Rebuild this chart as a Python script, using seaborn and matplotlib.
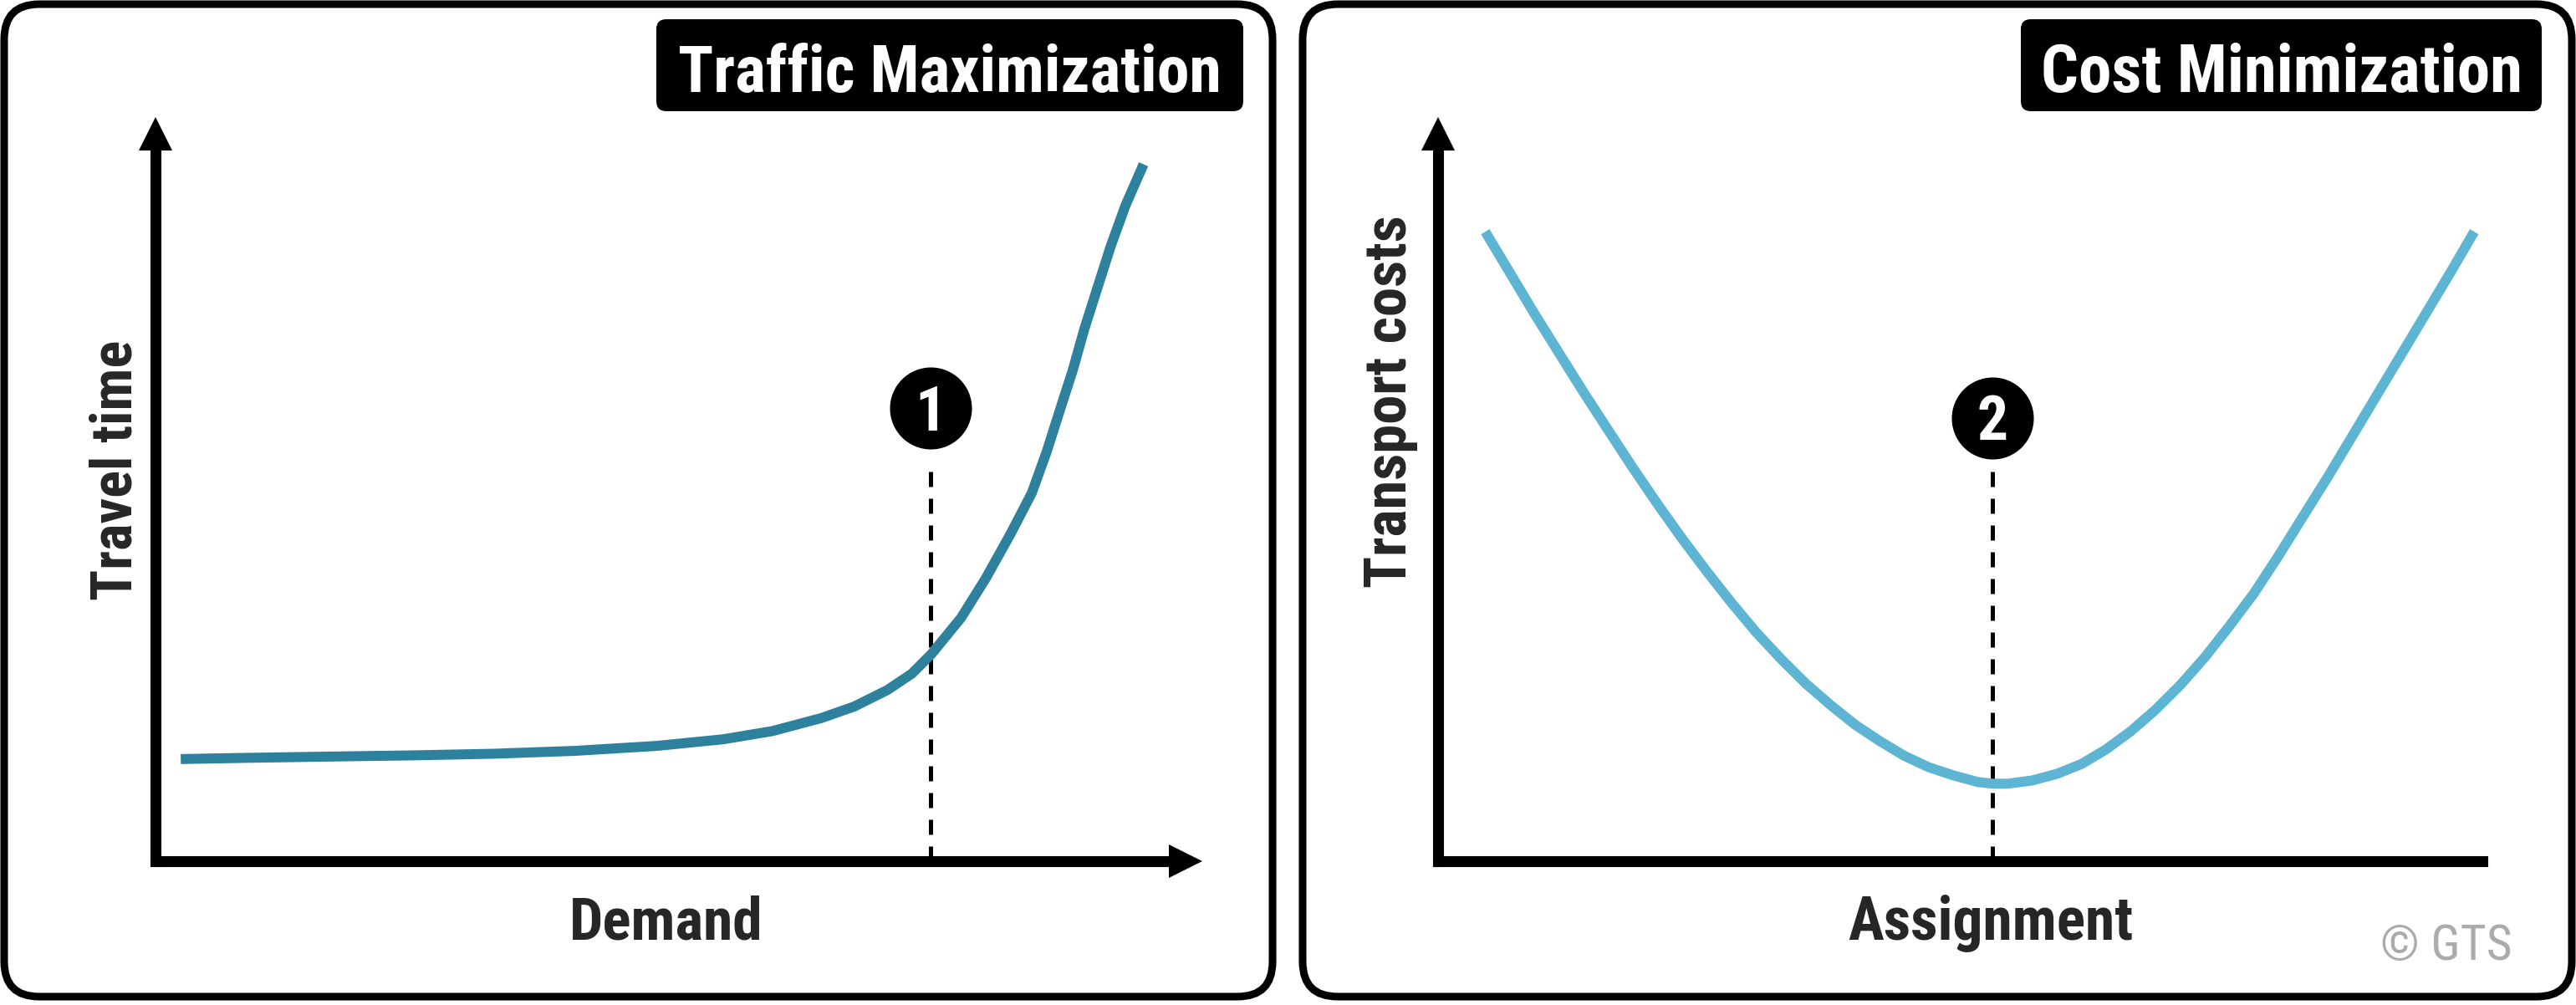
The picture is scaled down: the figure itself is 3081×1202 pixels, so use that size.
import os
import matplotlib
matplotlib.use("Agg")
import matplotlib.pyplot as plt
import seaborn as sns
import numpy as np
import pandas as pd
from matplotlib.patches import FancyBboxPatch
from matplotlib import font_manager as fm
from matplotlib.font_manager import FontProperties

# ---------------- data ----------------
demand = [2.41, 8.68, 16.52, 24.36, 32.20, 40.05, 47.89, 54.16, 58.87, 63.57,
          66.71, 69.85, 72.20, 74.08, 76.90, 79.25, 81.61, 83.65, 85.06, 86.31,
          87.57, 88.67, 89.92, 91.17, 92.59, 94.31]
travel_time = [13.71, 13.87, 14.04, 14.20, 14.42, 14.81, 15.48, 16.36, 17.46, 19.22,
               20.77, 22.97, 25.18, 27.83, 32.68, 37.97, 43.92, 49.44, 54.95, 60.47,
               65.98, 71.49, 77.01, 82.52, 88.03, 93.55]

assignment = [4.49, 6.84, 9.18, 11.53, 13.88, 16.22, 18.57, 20.92, 23.26, 25.61,
              27.96, 30.31, 32.65, 35.00, 37.35, 39.69, 42.04, 44.39, 46.73, 49.08,
              51.43, 52.83, 54.24, 56.59, 58.94, 61.28, 63.63, 65.98, 68.32, 70.67,
              73.02, 75.36, 77.71, 80.06, 82.40, 84.75, 87.10, 89.44, 91.79, 94.14,
              96.48, 98.67]
transport_costs = [84.50, 78.99, 73.48, 68.18, 62.89, 57.82, 52.75, 47.89, 43.26, 38.85,
                   34.66, 30.69, 27.16, 23.86, 20.99, 18.34, 16.14, 14.15, 12.61, 11.51,
                   10.62, 10.40, 10.40, 10.84, 11.73, 13.05, 15.03, 17.46, 20.33, 23.63,
                   27.38, 31.57, 35.99, 41.06, 46.35, 51.64, 57.16, 62.67, 68.18, 73.70,
                   79.21, 84.50]

point1_x, point1_y, point1_label = 74.0, 60.8, "1"
point2_x, point2_y, point2_label = 52.8, 59.5, "2"

titles = ["Traffic Maximization", "Cost Minimization"]
xlabels = ["Demand", "Assignment"]
ylabels = ["Travel time", "Transport costs"]
credit = "\u00a9 GTS"

# ---------------- fonts ----------------
sns.set_theme(style="white")
plt.rcParams["font.family"] = ["Liberation Sans", "DejaVu Sans"]

files = {os.path.basename(f.fname).lower(): f.fname for f in fm.fontManager.ttflist}


def pick(names):
    for n in names:
        if n.lower() in files:
            return files[n.lower()]
    return None


bold_file = pick(["LiberationSansNarrow-Bold.ttf", "ArialNarrowBold.ttf",
                  "RobotoCondensed-Bold.ttf", "EncodeSansCondensed-Bold.ttf",
                  "IBMPlexSansCondensed-Bold.ttf", "BarlowSemiCondensed-Bold.ttf",
                  "DejaVuSansCondensed-Bold.ttf"])
reg_file = pick(["LiberationSansNarrow-Regular.ttf", "ArialNarrow.ttf",
                 "RobotoCondensed-Regular.ttf", "EncodeSansCondensed-Regular.ttf",
                 "IBMPlexSansCondensed-Regular.ttf", "BarlowSemiCondensed-Regular.ttf",
                 "DejaVuSansCondensed.ttf"])
FP_BOLD = FontProperties(fname=bold_file) if bold_file else FontProperties(family="Liberation Sans", weight="bold")
FP_REG = FontProperties(fname=reg_file) if reg_file else FontProperties(family="Liberation Sans")

LEFT_COLOR = "#2E819C"
RIGHT_COLOR = "#5DB5D3"

W, H = 3081, 1202
fig = plt.figure(figsize=(W / 100, H / 100), dpi=100)
fig.patch.set_facecolor("white")

ov = fig.add_axes([0, 0, 1, 1], zorder=0)
ov.set_xlim(0, W)
ov.set_ylim(H, 0)
ov.axis("off")

for (x0, x1) in [(5, 1522), (1558, 3076)]:
    ov.add_patch(FancyBboxPatch((x0, 5), x1 - x0, 1187,
                                boxstyle="round,pad=0,rounding_size=42",
                                fc="white", ec="black", lw=6.5))

texts = []
title_boxes = [(785, 1487, 1136, 651), (2417, 3040, 2729, 577)]
for (x0, x1, xc, tw), t in zip(title_boxes, titles):
    ov.add_patch(FancyBboxPatch((x0, 23), x1 - x0, 110,
                                boxstyle="round,pad=0,rounding_size=12",
                                fc="black", ec="black", lw=0))
    tt = ov.text(xc, 110, t, color="white", fontproperties=FP_BOLD.copy(),
                 ha="center", va="baseline")
    texts.append((tt, tw, "w"))

texts.append((ov.text(797, 1124, xlabels[0], fontproperties=FP_BOLD.copy(),
                      ha="center", va="baseline"), 232, "w"))
texts.append((ov.text(2381, 1124, xlabels[1], fontproperties=FP_BOLD.copy(),
                      ha="center", va="baseline"), 342, "w"))
texts.append((ov.text(157, 562, ylabels[0], fontproperties=FP_BOLD.copy(), rotation=90,
                      rotation_mode="anchor", ha="center", va="baseline"), 311, "h"))
texts.append((ov.text(1682, 480, ylabels[1], fontproperties=FP_BOLD.copy(), rotation=90,
                      rotation_mode="anchor", ha="center", va="baseline"), 446, "h"))
texts.append((ov.text(3005, 1148, credit, fontproperties=FP_REG.copy(), color="#ABABAB",
                      ha="right", va="baseline"), 158, "w"))

renderer = fig.canvas.get_renderer()
for t, target, ax_ in texts:
    t.set_fontsize(50)
    bb = t.get_window_extent(renderer)
    cur = bb.width if ax_ == "w" else bb.height
    t.set_fontsize(50 * target / cur)


def make_axes(x0, x1, y0, y1):
    return fig.add_axes([x0 / W, 1 - y1 / H, (x1 - x0) / W, (y1 - y0) / H], zorder=1)


axL = make_axes(186, 1439, 139, 1030)
axR = make_axes(1720, 2976, 139, 1030)

for ax in (axL, axR):
    ax.set_xlim(0, 100)
    ax.set_ylim(0, 100)
    ax.patch.set_alpha(0)
    ax.set_xticks([])
    ax.set_yticks([])
    ax.grid(False)
    for s in ("top", "right"):
        ax.spines[s].set_visible(False)
    for s in ("left", "bottom"):
        ax.spines[s].set_color("black")
        ax.spines[s].set_linewidth(9.4)
    ax.spines["left"].set_bounds(0, 96)
    ax.plot(0, 97.64, marker="^", ms=29.5, color="black", mew=0, clip_on=False, zorder=5)

axL.spines["bottom"].set_bounds(0, 97.5)
axL.plot(98.36, 0, marker=">", ms=29.5, color="black", mew=0, clip_on=False, zorder=5)
axR.spines["bottom"].set_bounds(0, 99.48)

sns.lineplot(x=demand, y=travel_time, ax=axL, color=LEFT_COLOR, linewidth=8.6,
             solid_capstyle="butt", solid_joinstyle="round", sort=False, legend=False)
sns.lineplot(x=assignment, y=transport_costs, ax=axR, color=RIGHT_COLOR, linewidth=8.6,
             solid_capstyle="butt", solid_joinstyle="round", sort=False, legend=False)

for ax, px, py, lab in [(axL, point1_x, point1_y, point1_label),
                        (axR, point2_x, point2_y, point2_label)]:
    ax.vlines(px, 0, py - 6.9, colors="black", linewidth=3.6,
              linestyles=(0, (3.6, 2.8)), zorder=1)
    ax.plot(px, py, marker="o", ms=70.6, color="black", mew=0, clip_on=False, zorder=6)
    fpd = FP_BOLD.copy()
    fpd.set_size(53)
    ax.annotate(lab, (px, py), xytext=(0, -19), textcoords="offset points",
                color="white", fontproperties=fpd,
                ha="center", va="baseline", zorder=7)
    ax.set_xlabel("")
    ax.set_ylabel("")

fig.savefig("out.png", dpi=100)
